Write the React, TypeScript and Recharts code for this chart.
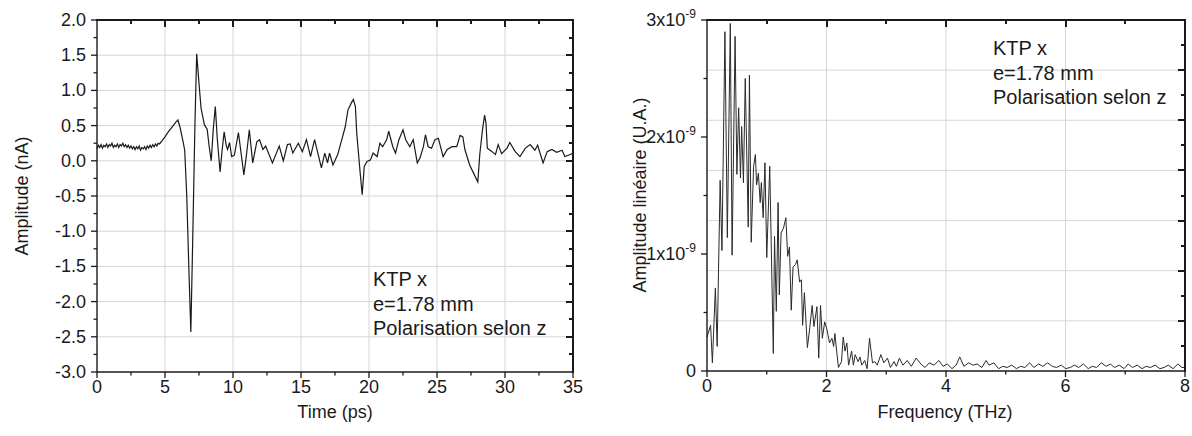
import React from "react";
import { LineChart, Line, XAxis, YAxis, CartesianGrid } from "recharts";

// time trace
const timePs = [
  0.0, 0.1, 0.2, 0.3, 0.4, 0.5, 0.6, 0.7, 0.8, 0.9, 1.0, 1.1, 1.2, 1.3, 1.4, 1.5, 1.6, 1.7, 1.8, 1.9,
  2.0, 2.1, 2.2, 2.3, 2.4, 2.5, 2.6, 2.7, 2.8, 2.9, 3.0, 3.1, 3.2, 3.3, 3.4, 3.5, 3.6, 3.7, 3.8, 3.9,
  4.0, 4.1, 4.2, 4.3, 4.4, 4.5, 4.6,
  4.8, 5.0, 5.2, 5.4, 5.6, 5.8, 5.95, 6.1, 6.3, 6.45, 6.6, 6.75, 6.9, 7.05, 7.2, 7.33,
  7.5, 7.65, 7.9, 8.1, 8.25, 8.4, 8.55, 8.7, 8.85, 9.05, 9.2, 9.35, 9.5, 9.6, 9.75, 9.9, 10.1, 10.4, 10.6, 10.8,
  11.0, 11.2, 11.45, 11.75, 11.95, 12.2, 12.4, 12.9, 13.4, 13.7, 14.0, 14.2, 14.4, 14.8, 15.1, 15.4, 15.7, 16.0, 16.5, 16.75,
  16.95, 17.1, 17.35, 17.7, 18.0, 18.25, 18.45, 18.75, 18.85, 19.0, 19.1, 19.35, 19.5, 19.65, 19.85, 20.1, 20.3, 20.6, 20.8, 21.0,
  21.3, 21.45, 21.75, 21.95, 22.2, 22.5, 22.7, 23.0, 23.25, 23.55, 23.75, 24.0, 24.15, 24.35, 24.6, 24.85, 25.1, 25.45, 25.75, 26.1,
  26.45, 26.7, 26.9, 27.05, 27.4, 27.75, 28.0, 28.15, 28.35, 28.5, 28.6, 28.7, 29.05, 29.3, 29.5, 29.75, 30.15, 30.35, 30.75, 31.1,
  31.5, 31.85, 32.2, 32.4, 32.8, 33.1, 33.45, 33.8, 34.2, 34.4, 34.8, 35.0,
];
const amplitudeNa = [
  0.17, 0.22, 0.19, 0.23, 0.18, 0.22, 0.2, 0.24, 0.19, 0.23, 0.21, 0.25, 0.19, 0.22, 0.2, 0.24, 0.19, 0.23, 0.21, 0.25,
  0.2, 0.23, 0.19, 0.22, 0.18, 0.21, 0.17, 0.2, 0.16, 0.2, 0.17, 0.21, 0.15, 0.19, 0.17, 0.2, 0.16, 0.21, 0.18, 0.22,
  0.19, 0.23, 0.2, 0.24, 0.21, 0.25, 0.24,
  0.29, 0.34, 0.4, 0.45, 0.5, 0.55, 0.58, 0.48, 0.3, 0.15, -0.5, -1.5, -2.43, -1.0, 0.5, 1.52,
  1.1, 0.75, 0.51, 0.45, 0.2, 0.0, 0.45, 0.77, 0.3, -0.16, 0.15, 0.41, 0.22, 0.16, 0.26, 0.06, 0.08, 0.4, 0.1, -0.2,
  0.1, 0.44, -0.03, 0.27, 0.3, 0.16, 0.21, -0.03, 0.21, 0.0, 0.23, 0.24, 0.11, 0.25, 0.13, 0.3, 0.06, 0.3, -0.1, 0.11,
  -0.03, 0.11, -0.06, 0.09, 0.3, 0.48, 0.72, 0.84, 0.87, 0.77, 0.39, -0.17, -0.48, -0.08, -0.01, 0.01, 0.11, 0.06, 0.25, 0.2,
  0.3, 0.42, 0.2, 0.11, 0.3, 0.44, 0.3, 0.2, 0.3, -0.03, 0.04, 0.2, 0.37, 0.2, 0.18, 0.3, 0.32, 0.06, 0.16, 0.2,
  0.2, 0.36, 0.34, 0.16, -0.06, -0.2, -0.3, 0.1, 0.45, 0.65, 0.54, 0.18, 0.13, 0.09, 0.23, 0.1, 0.18, 0.26, 0.13, 0.06,
  0.18, 0.23, 0.15, 0.22, -0.03, 0.13, 0.16, 0.12, 0.15, 0.06, 0.09, 0.11,
];

// spectrum, in units of 1e-9
const freqTHz = [
  0.0, 0.06, 0.09, 0.14, 0.17, 0.22, 0.25, 0.3, 0.34, 0.39, 0.42, 0.47, 0.5, 0.53, 0.56, 0.58, 0.61, 0.64, 0.69, 0.71,
  0.74, 0.78, 0.81, 0.83, 0.86, 0.89, 0.91, 0.94, 0.97, 1.0, 1.05, 1.11, 1.13, 1.16, 1.19, 1.21, 1.24, 1.28, 1.32, 1.35,
  1.38, 1.41, 1.44, 1.48, 1.51, 1.55, 1.58, 1.6, 1.63, 1.68, 1.72, 1.76, 1.79, 1.84, 1.87, 1.9, 1.93, 1.97, 2.01, 2.05,
  2.09, 2.12, 2.14, 2.17, 2.2, 2.25, 2.28, 2.31, 2.34, 2.37, 2.42, 2.45, 2.48, 2.53, 2.56, 2.59, 2.64, 2.68, 2.72, 2.77,
  2.81, 2.85, 2.91, 2.96, 3.02, 3.07, 3.13, 3.17, 3.22, 3.28, 3.35, 3.42, 3.5, 3.58, 3.65, 3.72, 3.8, 3.88, 3.95, 4.02,
  4.1, 4.17, 4.23, 4.3, 4.38, 4.45, 4.52, 4.6, 4.67, 4.72, 4.8, 4.88, 4.95, 5.02, 5.1, 5.18, 5.25, 5.32, 5.4, 5.47,
  5.55, 5.62, 5.7, 5.78, 5.85, 5.93, 6.0, 6.08, 6.15, 6.22, 6.3, 6.38, 6.45, 6.52, 6.6, 6.68, 6.75, 6.82, 6.9, 6.98,
  7.05, 7.12, 7.2, 7.28, 7.35, 7.42, 7.5, 7.58, 7.65, 7.72, 7.8, 7.88, 7.95, 8.0,
];
const spectrumE9 = [
  0.29, 0.39, 0.07, 0.71, 0.21, 1.63, 1.03, 2.9, 1.14, 2.97, 0.99, 2.86, 1.68, 2.25, 1.65, 2.09, 1.61, 2.5, 1.23, 2.53,
  1.1, 1.75, 1.85, 1.59, 1.69, 1.44, 1.61, 1.31, 1.78, 0.97, 1.75, 0.15, 1.15, 0.51, 1.44, 0.65, 1.18, 1.22, 1.31, 0.98,
  1.06, 0.52, 0.89, 0.91, 0.95, 0.76, 0.78, 0.39, 0.67, 0.2, 0.37, 0.56, 0.38, 0.55, 0.11, 0.56, 0.28, 0.42, 0.35, 0.24,
  0.28, 0.21, 0.32, 0.17, 0.03, 0.08, 0.29, 0.17, 0.24, 0.05, 0.17, 0.05, 0.14, 0.08, 0.12, 0.05, 0.09, 0.02, 0.28, 0.07,
  0.08, 0.05, 0.14, 0.07, 0.11, 0.03, 0.08, 0.04, 0.11, 0.05, 0.09, 0.04, 0.11, 0.06, 0.03, 0.07, 0.05, 0.09, 0.04, 0.06,
  0.02, 0.05, 0.12, 0.04, 0.07, 0.05, 0.06, 0.03, 0.09, 0.05, 0.07, 0.02, 0.04, 0.03, 0.05, 0.02, 0.04, 0.03, 0.07, 0.03,
  0.06, 0.04, 0.07, 0.04, 0.03, 0.05, 0.02, 0.03, 0.05, 0.03, 0.06, 0.02, 0.04, 0.03, 0.07, 0.04, 0.06, 0.03, 0.05, 0.02,
  0.06, 0.03, 0.05, 0.02, 0.04, 0.03, 0.05, 0.02, 0.03, 0.05, 0.02, 0.06, 0.03, 0.03,
];

const timeTicks = [0, 2.5, 5, 7.5, 10, 12.5, 15, 17.5, 20, 22.5, 25, 27.5, 30, 32.5, 35];
const ampTicks = [
  -3, -2.75, -2.5, -2.25, -2, -1.75, -1.5, -1.25, -1, -0.75, -0.5, -0.25, 0, 0.25, 0.5, 0.75, 1, 1.25, 1.5, 1.75, 2,
];
const freqTicks = [0, 1, 2, 3, 4, 5, 6, 7, 8];
const specTicks = [0, 0.5, 1, 1.5, 2, 2.5, 3];
// right-hand frame of the spectrum uses its own division (sevenths, halved)
const specRightTicks = [1, 2, 3, 4, 5, 6, 7, 8, 9, 10, 11, 12, 13].map((k) => (3 * k) / 14);

const FONT = "'Liberation Sans', Arial, Helvetica, sans-serif";
const INK = "#1a1a1a";
const GRID = "#d6d6d6";

const timeData = timePs.map((t, i) => ({ t, v: amplitudeNa[i] }));
const specData = freqTHz.map((f, i) => ({ f, a: spectrumE9[i] }));

const onStep = (v: number, step: number) => Math.abs(v / step - Math.round(v / step)) < 1e-6;

// plot boxes in page px, from margins + axis sizes
const L = { top: 20, left: 97, right: 573, bottom: 372, x0: 0, x1: 35, y0: -3, y1: 2 };
const R = { top: 20, left: 707, right: 1185, bottom: 371, x0: 0, x1: 8, y0: 0, y1: 3 };
type Box = typeof L;

function makeTick(side: "bottom" | "left", step: number, label: (v: number) => React.ReactNode) {
  return (props: any) => {
    const { x, y, payload } = props;
    const v = payload.value as number;
    const major = onStep(v, step);
    const len = major ? 6 : 3.5;
    if (side === "bottom") {
      return (
        <g>
          <line x1={x} y1={y} x2={x} y2={y + len} stroke={INK} strokeWidth={1.3} />
          {major && (
            <text x={x} y={y + 21} textAnchor="middle" fontSize={18} fontFamily={FONT} fill={INK}>
              {label(v)}
            </text>
          )}
        </g>
      );
    }
    return (
      <g>
        <line x1={x} y1={y} x2={x - len} y2={y} stroke={INK} strokeWidth={1.3} />
        {major && (
          <text x={x - 11} y={y + 6} textAnchor="end" fontSize={18} fontFamily={FONT} fill={INK}>
            {label(v)}
          </text>
        )}
      </g>
    );
  };
}

// top and right frame with inward ticks, as plain html strokes over the plot box
const bar = (left: number, top: number, width: number, height: number): React.CSSProperties => ({
  position: "absolute",
  left,
  top,
  width,
  height,
  background: INK,
});

function Frame({ box, xs, ys, xMajor, yMajor }: { box: Box; xs: number[]; ys: number[]; xMajor: (v: number) => boolean; yMajor: (v: number) => boolean }) {
  const px = (v: number) => box.left + ((v - box.x0) / (box.x1 - box.x0)) * (box.right - box.left);
  const py = (v: number) => box.bottom - ((v - box.y0) / (box.y1 - box.y0)) * (box.bottom - box.top);
  return (
    <>
      <div style={bar(box.left - 1, box.top - 1, box.right - box.left + 2, 2)} />
      <div style={bar(box.right - 1, box.top - 1, 2, box.bottom - box.top + 2)} />
      {xs.filter((v) => v > box.x0 && v < box.x1).map((v) => (
        <div key={`x${v}`} style={bar(Math.round(px(v)) - 1, box.top, 1.5, xMajor(v) ? 7 : 4)} />
      ))}
      {ys.filter((v) => v > box.y0 && v < box.y1).map((v) => {
        const len = yMajor(v) ? 7 : 4;
        return <div key={`y${v}`} style={bar(box.right - len, Math.round(py(v)) - 1, len, 1.5)} />;
      })}
    </>
  );
}

const sciLabel = (v: number) =>
  v === 0 ? (
    "0"
  ) : (
    <>
      <tspan>{`${v}x10`}</tspan>
      <tspan dy={-8} fontSize={12}>-9</tspan>
    </>
  );

const axisLine = { stroke: INK, strokeWidth: 1.4 };

const annot: React.CSSProperties = {
  position: "absolute",
  fontFamily: FONT,
  fontSize: 20,
  lineHeight: "24.5px",
  color: INK,
  whiteSpace: "nowrap",
};

const title: React.CSSProperties = {
  position: "absolute",
  fontFamily: FONT,
  fontSize: 18,
  color: INK,
  whiteSpace: "nowrap",
  transform: "translate(-50%, -50%)",
};

export default function App() {
  return (
    <div style={{ position: "absolute", left: 0, top: 0, width: 1192, height: 436, background: "#fff" }}>
      <div style={{ position: "absolute", left: 0, top: 0 }}>
        <LineChart width={600} height={436} data={timeData} margin={{ top: 20, right: 27, bottom: 24, left: 37 }}>
          <CartesianGrid
            stroke={GRID}
            horizontalValues={[-2.5, -2, -1.5, -1, -0.5, 0, 0.5, 1, 1.5]}
            verticalValues={[5, 10, 15, 20, 25, 30]}
          />
          <XAxis
            dataKey="t"
            type="number"
            domain={[0, 35]}
            ticks={timeTicks}
            interval={0}
            height={40}
            tickSize={0}
            tickMargin={0}
            tickLine={false}
            axisLine={axisLine}
            tick={makeTick("bottom", 5, (v) => String(v))}
          />
          <YAxis
            type="number"
            domain={[-3, 2]}
            ticks={ampTicks}
            interval={0}
            width={60}
            tickSize={0}
            tickMargin={0}
            tickLine={false}
            axisLine={axisLine}
            tick={makeTick("left", 0.5, (v) => v.toFixed(1))}
          />
          <Line dataKey="v" type="linear" dot={false} stroke={INK} strokeWidth={1.2} isAnimationActive={false} />
        </LineChart>
      </div>

      <div style={{ position: "absolute", left: 600, top: 0 }}>
        <LineChart width={592} height={436} data={specData} margin={{ top: 20, right: 7, bottom: 25, left: 47 }}>
          <CartesianGrid
            stroke={GRID}
            horizontalValues={[1, 2, 3, 4, 5, 6].map((k) => (3 * k) / 7)}
            verticalValues={[2, 4, 6]}
          />
          <XAxis
            dataKey="f"
            type="number"
            domain={[0, 8]}
            ticks={freqTicks}
            interval={0}
            height={40}
            tickSize={0}
            tickMargin={0}
            tickLine={false}
            axisLine={axisLine}
            tick={makeTick("bottom", 2, (v) => String(v))}
          />
          <YAxis
            type="number"
            domain={[0, 3]}
            ticks={specTicks}
            interval={0}
            width={60}
            tickSize={0}
            tickMargin={0}
            tickLine={false}
            axisLine={axisLine}
            tick={makeTick("left", 1, sciLabel)}
          />
          <Line dataKey="a" type="linear" dot={false} stroke="#2a2a2a" strokeWidth={1} isAnimationActive={false} />
        </LineChart>
      </div>

      <Frame box={L} xs={timeTicks} ys={ampTicks} xMajor={(v) => onStep(v, 5)} yMajor={(v) => onStep(v, 0.5)} />
      <Frame box={R} xs={freqTicks} ys={specRightTicks} xMajor={(v) => onStep(v, 2)} yMajor={(v) => onStep(v, 3 / 7)} />

      <div style={{ ...title, left: 335, top: 412 }}>Time (ps)</div>
      <div style={{ ...title, left: 945, top: 412 }}>Frequency (THz)</div>
      <div style={{ ...title, left: 22, top: 196, transform: "translate(-50%, -50%) rotate(-90deg)" }}>
        Amplitude (nA)
      </div>
      <div style={{ ...title, left: 640, top: 195, transform: "translate(-50%, -50%) rotate(-90deg)" }}>
        Amplitude linéaire (U.A.)
      </div>

      <div style={{ ...annot, left: 373, top: 267 }}>
        KTP x<br />e=1.78 mm<br />Polarisation selon z
      </div>
      <div style={{ ...annot, left: 993, top: 36 }}>
        KTP x<br />e=1.78 mm<br />Polarisation selon z
      </div>
    </div>
  );
}
